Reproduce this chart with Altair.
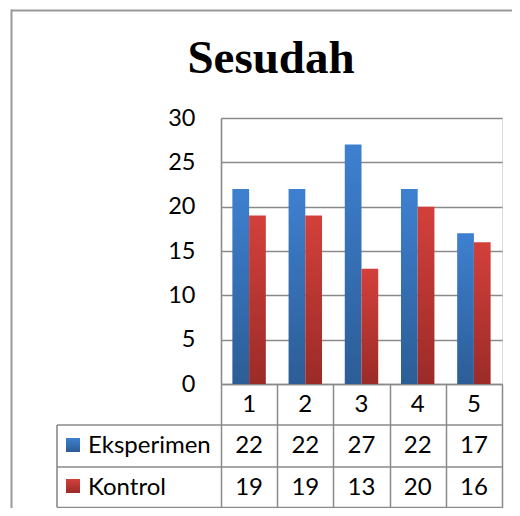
import altair as alt
import pandas as pd

# ---- data ----
categories = ["1", "2", "3", "4", "5"]
eksperimen = [22, 22, 27, 22, 17]
kontrol = [19, 19, 13, 20, 16]
series = ["Eksperimen", "Kontrol"]
y_ticks = [0, 5, 10, 15, 20, 25, 30]
title_text = "Sesudah"

rows = []
for c, e, k in zip(categories, eksperimen, kontrol):
    rows.append({"cat": c, "series": "Eksperimen", "value": e})
    rows.append({"cat": c, "series": "Kontrol", "value": k})
df = pd.DataFrame(rows)

# ---- style / layout ----
W, H = 281, 266
GRID = "#8a8a8a"
FRAME = "#9a9a9a"
FONT = "Lato"
TFS = 24

blue_grad = alt.LinearGradient(
    gradient="linear", x1=0, y1=0, x2=0, y2=1,
    stops=[alt.GradientStop(color="#3e80d0", offset=0),
           alt.GradientStop(color="#2c5d96", offset=1)])
red_grad = alt.LinearGradient(
    gradient="linear", x1=0, y1=0, x2=0, y2=1,
    stops=[alt.GradientStop(color="#d3403b", offset=0),
           alt.GradientStop(color="#9b2b28", offset=1)])

x_enc = alt.X(
    "cat:N", sort=categories,
    scale=alt.Scale(domain=categories, paddingInner=0, paddingOuter=0),
    axis=alt.Axis(title=None, labels=False, tickBand="extent", tickSize=124,
                  tickColor=GRID, tickWidth=1.5, domainColor=GRID,
                  domainWidth=1.5, grid=False))
y_enc = alt.Y(
    "value:Q", scale=alt.Scale(domain=[0, 30], nice=False),
    axis=alt.Axis(title=None, values=y_ticks, ticks=False, labelPadding=26,
                  labelFont=FONT, labelFontSize=23.5, labelColor="#000000",
                  labelBaseline="middle", gridColor=GRID, gridWidth=1.6,
                  gridOpacity=1, domainColor=GRID, domainWidth=1.6))
xoff = alt.XOffset("series:N",
                   scale=alt.Scale(domain=series, paddingInner=0, paddingOuter=0.68))

base = alt.Chart(df)

bars_e = base.transform_filter(alt.datum.series == "Eksperimen").mark_bar(
    fill=blue_grad).encode(x=x_enc, y=y_enc, xOffset=xoff)
bars_k = base.transform_filter(alt.datum.series == "Kontrol").mark_bar(
    fill=red_grad).encode(x=x_enc, y=y_enc, xOffset=xoff)

# category labels row
cat_labels = base.transform_filter(alt.datum.series == "Eksperimen").mark_text(
    font=FONT, fontSize=TFS, baseline="middle", color="#000000").encode(
    x=x_enc, y=alt.value(286.5), text="cat:N")

# table values
vals_e = base.transform_filter(alt.datum.series == "Eksperimen").mark_text(
    font=FONT, fontSize=TFS, baseline="middle", color="#000000").encode(
    x=x_enc, y=alt.value(328), text="value:Q")
vals_k = base.transform_filter(alt.datum.series == "Kontrol").mark_text(
    font=FONT, fontSize=TFS, baseline="middle", color="#000000").encode(
    x=x_enc, y=alt.value(369.5), text="value:Q")

# table horizontal lines
hlines = alt.Chart(pd.DataFrame({"py": [307, 349, 389.5]})).mark_rule(
    color=GRID, strokeWidth=1.6).encode(
    y=alt.Y("py:Q", scale=None), x=alt.value(-164), x2=alt.value(W))
vline = alt.Chart(pd.DataFrame({"a": [0]})).mark_rule(
    color=GRID, strokeWidth=1.6).encode(
    x=alt.value(-164), y=alt.value(307), y2=alt.value(389.5))

# legend swatches and labels
sw_e = alt.Chart(pd.DataFrame({"a": [0]})).mark_rect(fill=blue_grad).encode(
    x=alt.value(-155), x2=alt.value(-141), y=alt.value(320), y2=alt.value(334))
sw_k = alt.Chart(pd.DataFrame({"a": [0]})).mark_rect(fill=red_grad).encode(
    x=alt.value(-155), x2=alt.value(-141), y=alt.value(361), y2=alt.value(375))
leg_e = alt.Chart(pd.DataFrame({"t": [series[0]]})).mark_text(
    font=FONT, fontSize=TFS, align="left", baseline="middle", color="#000000").encode(
    x=alt.value(-133), y=alt.value(328), text="t:N")
leg_k = alt.Chart(pd.DataFrame({"t": [series[1]]})).mark_text(
    font=FONT, fontSize=TFS, align="left", baseline="middle", color="#000000").encode(
    x=alt.value(-133), y=alt.value(369.5), text="t:N")

# title
title = alt.Chart(pd.DataFrame({"t": [title_text]})).mark_text(
    font="Liberation Serif", fontSize=47, fontWeight="bold", align="center",
    baseline="alphabetic", color="#000000").encode(
    x=alt.value(50), y=alt.value(-45), text="t:N")

# outer frame
frame_top = alt.Chart(pd.DataFrame({"a": [0]})).mark_rule(
    color=FRAME, strokeWidth=2).encode(
    x=alt.value(-210), x2=alt.value(300), y=alt.value(-107.5))
frame_left = alt.Chart(pd.DataFrame({"a": [0]})).mark_rule(
    color=FRAME, strokeWidth=2).encode(
    x=alt.value(-209.5), y=alt.value(-108.5), y2=alt.value(400))

chart = alt.layer(
    bars_e, bars_k, cat_labels, vals_e, vals_k, hlines, vline,
    sw_e, sw_k, leg_e, leg_k, title, frame_top, frame_left
).properties(
    width=W, height=H,
    autosize=alt.AutoSizeParams(type="none"),
    padding={"left": 213, "top": 110, "right": 10, "bottom": 124},
).configure_view(strokeWidth=0).configure(background="white")

chart.save("out.html", embed_options={"renderer": "svg", "actions": False})
